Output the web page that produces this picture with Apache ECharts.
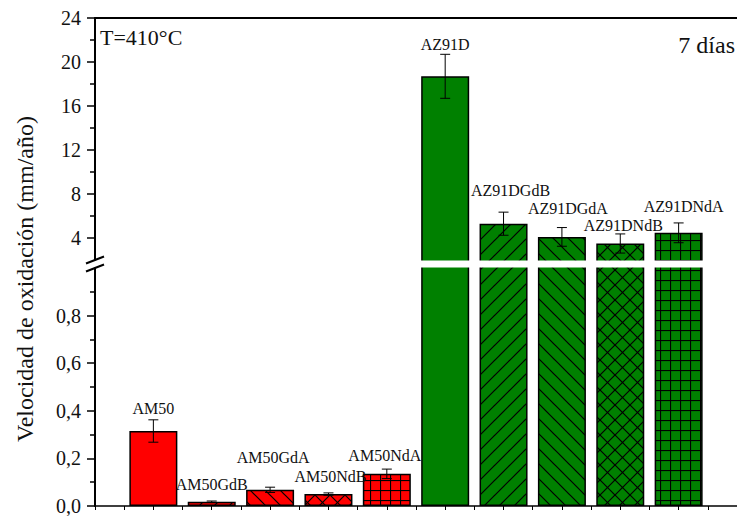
<!DOCTYPE html>
<html>
<head>
<meta charset="utf-8">
<script src="https://cdn.jsdelivr.net/npm/echarts@6/dist/echarts.min.js"></script>
<style>
  html, body { margin: 0; padding: 0; background: #fff; }
  #chart { width: 737px; height: 516px; }
</style>
</head>
<body>
<div id="chart"></div>
<script>
// Oxidation rate at 410 °C after 7 days, AM50 and AZ91D families
const categories = ['AM50', 'AM50GdB', 'AM50GdA', 'AM50NdB', 'AM50NdA',
                    'AZ91D', 'AZ91DGdB', 'AZ91DGdA', 'AZ91DNdB', 'AZ91DNdA'];
const rates  = [0.315, 0.018, 0.068, 0.050, 0.135, 18.7, 5.3, 4.1, 3.5, 4.47];
const errors = [0.047, 0.003, 0.011, 0.005, 0.020, 2.0, 1.05, 0.85, 0.87, 0.9];

// broken value axis: lower segment 0–1, upper segment 2–24
const lowerRange = [0, 1];
const upperRange = [2, 24];
const lowerTicks = [0, 0.2, 0.4, 0.6, 0.8];
const lowerMinorTicks = [0.1, 0.3, 0.5, 0.7, 0.9];
const upperTicks = [4, 8, 12, 16, 20, 24];
const upperMinorTicks = [6, 10, 14, 18, 22];

// ---- styling ----
const SERIF = "'Liberation Serif', 'Times New Roman', Times, 'DejaVu Serif', serif";
const INK = '#111';
const familyColor = ['#ff0000', '#ff0000', '#ff0000', '#ff0000', '#ff0000',
                     '#008000', '#008000', '#008000', '#008000', '#008000'];
const hatch = ['solid', 'fwd', 'back', 'cross', 'grid',
               'solid', 'fwd', 'back', 'cross', 'grid'];
// name label placement: [dx, lift above the error bar top] in px
const labelPlacement = [[0, 11], [0, 17], [3, 30], [2, 16], [-2, 14],
                        [0, 10], [7, 22], [6, 19], [3, 8], [5, 16]];

const PLOT_LEFT = 95, PLOT_WIDTH = 649;
const UPPER_TOP = 18, UPPER_BOTTOM = 260;   // pixel span of 2..24
const LOWER_TOP = 268, LOWER_BOTTOM = 511;  // pixel span of 0..1
const OVERLAP = 4;                          // grids reach into the break gap, hidden by a mask

const upperScale = (UPPER_BOTTOM - UPPER_TOP) / (upperRange[1] - upperRange[0]);
const lowerScale = (LOWER_BOTTOM - LOWER_TOP) / (lowerRange[1] - lowerRange[0]);
const upperMin = upperRange[0] - OVERLAP / upperScale;
const lowerMax = lowerRange[1] + OVERLAP / lowerScale;

function makeFill(base, kind) {
  if (kind === 'solid') return base;
  const s = kind === 'grid' ? 10 : 15;
  const c = document.createElement('canvas');
  c.width = s; c.height = s;
  const g = c.getContext('2d');
  g.fillStyle = base;
  g.fillRect(0, 0, s, s);
  g.strokeStyle = '#000';
  g.lineWidth = 1.2;
  const seg = (x1, y1, x2, y2) => { g.beginPath(); g.moveTo(x1, y1); g.lineTo(x2, y2); g.stroke(); };
  const fwd = () => { for (const o of [-s, 0, s]) seg(o - 1, s + 1, o + s + 1, -1); };
  const back = () => { for (const o of [-s, 0, s]) seg(o - 1, -1, o + s + 1, s + 1); };
  if (kind === 'fwd') fwd();
  if (kind === 'back') back();
  if (kind === 'cross') { fwd(); back(); }
  if (kind === 'grid') { seg(0.5, 0, 0.5, s); seg(0, 0.5, s, 0.5); }
  return { image: c.toDataURL(), repeat: 'repeat', imageWidth: s, imageHeight: s };
}

const fills = categories.map((_, i) => makeFill(familyColor[i], hatch[i]));

function barItem(i) {
  return {
    value: [i + 1, rates[i]],
    itemStyle: { color: fills[i], borderColor: '#000', borderWidth: 1.5 }
  };
}

const lowerBars = categories.map((_, i) => barItem(i));
const upperBars = categories.map((_, i) => i).filter(i => rates[i] > upperRange[0]).map(barItem);

// error bar + name label rows: [x, value, error, index]
const errRows = categories.map((_, i) => [i + 1, rates[i], errors[i], i]);
const lowerErr = errRows.filter(r => r[1] + r[2] <= lowerRange[1]);
const upperErr = errRows.filter(r => r[1] + r[2] > lowerRange[1]);

function renderErr(params, api) {
  const x = api.value(0), v = api.value(1), e = api.value(2), idx = api.value(3);
  const top = api.coord([x, v + e]);
  const bot = api.coord([x, v - e]);
  const cap = 5;
  const ls = { stroke: '#000', lineWidth: 1 };
  const place = labelPlacement[idx];
  return {
    type: 'group',
    children: [
      { type: 'line', shape: { x1: top[0], y1: top[1], x2: bot[0], y2: bot[1] }, style: ls },
      { type: 'line', shape: { x1: top[0] - cap, y1: top[1], x2: top[0] + cap, y2: top[1] }, style: ls },
      { type: 'line', shape: { x1: bot[0] - cap, y1: bot[1], x2: bot[0] + cap, y2: bot[1] }, style: ls },
      { type: 'text', style: {
          text: categories[idx], x: top[0] + place[0], y: top[1] - place[1],
          textAlign: 'center', textVerticalAlign: 'middle',
          font: '16px ' + SERIF, fill: INK } }
    ]
  };
}

function yMajor(grid, min, max, ticks, decimals) {
  return {
    type: 'value', gridIndex: grid, min: min, max: max, position: 'left',
    axisLine: { show: true, onZero: false, lineStyle: { color: '#000', width: 2 } },
    axisTick: { show: true, inside: false, length: 8, customValues: ticks,
                lineStyle: { color: '#000', width: 1.5 } },
    axisLabel: { show: true, customValues: ticks, margin: 14, color: INK,
                 fontFamily: SERIF, fontSize: 20,
                 formatter: v => (decimals ? v.toFixed(decimals).replace('.', ',') : String(v)) },
    splitLine: { show: false }
  };
}
function yMinor(grid, min, max, ticks) {
  return {
    type: 'value', gridIndex: grid, min: min, max: max, position: 'left',
    axisLine: { show: false, onZero: false },
    axisTick: { show: true, inside: false, length: 5, customValues: ticks,
                lineStyle: { color: '#000', width: 1.5 } },
    axisLabel: { show: false },
    splitLine: { show: false }
  };
}

const option = {
  animation: false,
  backgroundColor: '#fff',
  textStyle: { fontFamily: SERIF },
  grid: [
    { left: PLOT_LEFT, width: PLOT_WIDTH, top: UPPER_TOP, height: UPPER_BOTTOM + OVERLAP - UPPER_TOP },
    { left: PLOT_LEFT, width: PLOT_WIDTH, top: LOWER_TOP - OVERLAP, height: LOWER_BOTTOM - LOWER_TOP + OVERLAP }
  ],
  xAxis: [
    { type: 'value', gridIndex: 0, min: 0, max: categories.length + 1, position: 'top',
      axisLine: { show: true, onZero: false, lineStyle: { color: '#000', width: 2 } },
      axisTick: { show: false }, axisLabel: { show: false }, splitLine: { show: false } },
    { type: 'value', gridIndex: 1, min: 0, max: categories.length + 1, interval: 0.5,
      position: 'bottom',
      axisLine: { show: true, onZero: false, lineStyle: { color: '#000', width: 1.5 } },
      axisTick: { show: true, inside: false, length: 4, lineStyle: { color: '#000', width: 1 } },
      axisLabel: { show: false }, splitLine: { show: false } }
  ],
  yAxis: [
    yMajor(0, upperMin, upperRange[1], upperTicks, 0),
    yMinor(0, upperMin, upperRange[1], upperMinorTicks),
    yMajor(1, lowerRange[0], lowerMax, lowerTicks, 1),
    yMinor(1, lowerRange[0], lowerMax, lowerMinorTicks)
  ],
  series: [
    { type: 'bar', xAxisIndex: 0, yAxisIndex: 0, barWidth: 48, clip: true, data: upperBars },
    { type: 'bar', xAxisIndex: 1, yAxisIndex: 2, barWidth: 48, clip: true, data: lowerBars },
    { type: 'custom', xAxisIndex: 0, yAxisIndex: 0, renderItem: renderErr, data: upperErr, z: 5 },
    { type: 'custom', xAxisIndex: 1, yAxisIndex: 2, renderItem: renderErr, data: lowerErr, z: 5 }
  ],
  graphic: [
    { type: 'text', x: 25, y: 279, rotation: Math.PI / 2,
      style: { text: 'Velocidad de oxidación (mm/año)', font: '24px ' + SERIF,
               fill: INK, textAlign: 'center', textVerticalAlign: 'middle' } },
    { type: 'text', x: 100, y: 37,
      style: { text: 'T=410°C', font: '22px ' + SERIF, fill: INK,
               textAlign: 'left', textVerticalAlign: 'middle' } },
    { type: 'text', x: 735, y: 45,
      style: { text: '7 días', font: '24px ' + SERIF, fill: INK,
               textAlign: 'right', textVerticalAlign: 'middle' } },
    // white gap of the axis break, then the two break strokes
    { type: 'rect', z: 9, shape: { x: PLOT_LEFT - 3, y: UPPER_BOTTOM + 0.5, width: 737, height: LOWER_TOP - UPPER_BOTTOM - 1 },
      style: { fill: '#fff' } },
    { type: 'line', z: 10, shape: { x1: PLOT_LEFT - 9, y1: UPPER_BOTTOM + 3.5, x2: PLOT_LEFT + 9, y2: UPPER_BOTTOM - 3.5 },
      style: { stroke: '#000', lineWidth: 2 } },
    { type: 'line', z: 10, shape: { x1: PLOT_LEFT - 9, y1: LOWER_TOP + 3.5, x2: PLOT_LEFT + 9, y2: LOWER_TOP - 3.5 },
      style: { stroke: '#000', lineWidth: 2 } }
  ]
};

const chart = echarts.init(document.getElementById('chart'), null, { renderer: 'svg' });
chart.setOption(option);
</script>
</body>
</html>
